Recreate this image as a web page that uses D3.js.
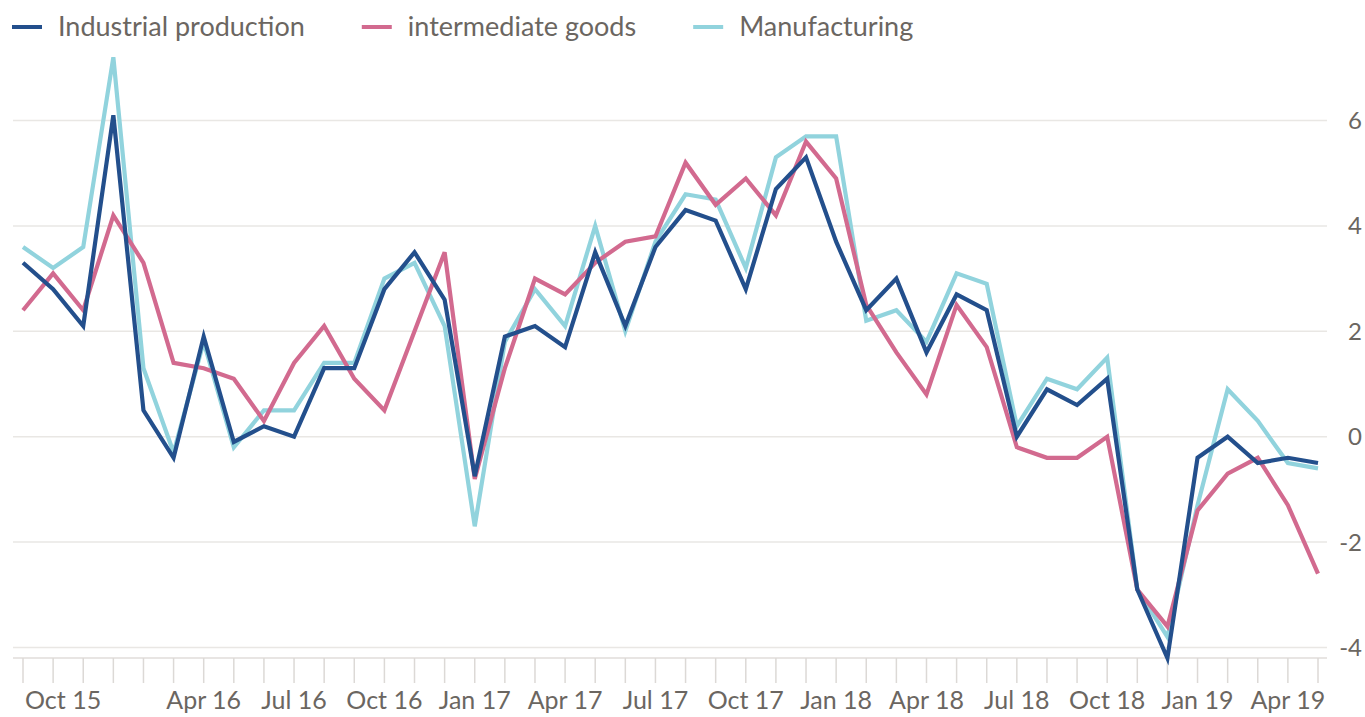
<!DOCTYPE html>
<html>
<head>
<meta charset="utf-8">
<script src="https://cdn.jsdelivr.net/npm/d3@7"></script>
<style>
  html, body { margin: 0; padding: 0; background: #ffffff; }
  svg { display: block; }
  text { font-family: Lato, "Open Sans", sans-serif; fill: #6b6661; }
</style>
</head>
<body>
<svg id="chart" width="1365" height="717"></svg>
<script>
// ---- Data ----
const months = ["Oct 15","Nov 15","Dec 15","Jan 16","Feb 16","Mar 16","Apr 16","May 16","Jun 16","Jul 16","Aug 16","Sep 16",
  "Oct 16","Nov 16","Dec 16","Jan 17","Feb 17","Mar 17","Apr 17","May 17","Jun 17","Jul 17","Aug 17","Sep 17",
  "Oct 17","Nov 17","Dec 17","Jan 18","Feb 18","Mar 18","Apr 18","May 18","Jun 18","Jul 18","Aug 18","Sep 18",
  "Oct 18","Nov 18","Dec 18","Jan 19","Feb 19","Mar 19","Apr 19","May 19"];

const industrialProduction = [3.3, 2.8, 2.1, 6.1, 0.5, -0.4, 1.9, -0.1, 0.2, 0.0, 1.3, 1.3,
  2.8, 3.5, 2.6, -0.75, 1.9, 2.1, 1.7, 3.5, 2.1, 3.6, 4.3, 4.1,
  2.8, 4.7, 5.3, 3.7, 2.4, 3.0, 1.6, 2.7, 2.4, 0.0, 0.9, 0.6,
  1.1, -2.9, -4.2, -0.4, 0.0, -0.5, -0.4, -0.5];

const intermediateGoods = [2.4, 3.1, 2.4, 4.2, 3.3, 1.4, 1.3, 1.1, 0.3, 1.4, 2.1, 1.1,
  0.5, 2.0, 3.5, -0.8, 1.3, 3.0, 2.7, 3.3, 3.7, 3.8, 5.2, 4.4,
  4.9, 4.2, 5.6, 4.9, 2.5, 1.6, 0.8, 2.5, 1.7, -0.2, -0.4, -0.4,
  0.0, -2.9, -3.6, -1.4, -0.7, -0.4, -1.3, -2.6];

const manufacturing = [3.6, 3.2, 3.6, 7.2, 1.3, -0.3, 1.8, -0.2, 0.5, 0.5, 1.4, 1.4,
  3.0, 3.3, 2.1, -1.7, 1.8, 2.8, 2.1, 4.0, 2.0, 3.7, 4.6, 4.5,
  3.2, 5.3, 5.7, 5.7, 2.2, 2.4, 1.8, 3.1, 2.9, 0.2, 1.1, 0.9,
  1.5, -2.9, -3.8, -1.3, 0.9, 0.3, -0.5, -0.6];

const yTicks = [-4, -2, 0, 2, 4, 6];
const xLabels = ["Oct 15","Apr 16","Jul 16","Oct 16","Jan 17","Apr 17","Jul 17","Oct 17","Jan 18","Apr 18","Jul 18","Oct 18","Jan 19","Apr 19"];

const seriesNames = ["Industrial production", "intermediate goods", "Manufacturing"];
const seriesColors = ["#234f8c", "#d26a8f", "#91d3dd"];
const seriesData = [industrialProduction, intermediateGoods, manufacturing];

// ---- Layout ----
const svg = d3.select("#chart");
const x = d3.scaleLinear().domain([0, months.length - 1]).range([23, 1318]);
const y = d3.scaleLinear().domain([-4, 6]).range([647.5, 120.5]);
const gridLeft = 13, gridRight = 1327;

// gridlines
svg.append("g").selectAll("line").data(yTicks).join("line")
  .attr("x1", gridLeft).attr("x2", gridRight)
  .attr("y1", d => y(d)).attr("y2", d => y(d))
  .attr("stroke", "#e9e7e4").attr("stroke-width", 1.5);

// y labels (right)
svg.append("g").selectAll("text").data(yTicks).join("text")
  .attr("x", 1362).attr("y", d => y(d)).attr("dy", "0.35em")
  .attr("text-anchor", "end").attr("font-size", 24)
  .text(d => d);

// x axis baseline and ticks
svg.append("line").attr("x1", gridLeft).attr("x2", gridRight)
  .attr("y1", 658).attr("y2", 658).attr("stroke", "#e0ddda").attr("stroke-width", 1.5);
svg.append("g").selectAll("line").data(months).join("line")
  .attr("x1", (d, i) => x(i)).attr("x2", (d, i) => x(i))
  .attr("y1", 658).attr("y2", 683)
  .attr("stroke", "#dcd9d6").attr("stroke-width", 1.5);

// x labels
svg.append("g").selectAll("text").data(xLabels).join("text")
  .attr("x", (d, k) => k === 0 ? 25 : x(months.indexOf(d)))
  .attr("y", 709)
  .attr("text-anchor", (d, k) => k === 0 ? "start" : "middle")
  .attr("font-size", 25)
  .text(d => d);

// lines
const line = d3.line().x((d, i) => x(i)).y(d => y(d)).curve(d3.curveLinear);
[2, 1, 0].forEach(s => {
  svg.append("path").datum(seriesData[s])
    .attr("d", line).attr("fill", "none")
    .attr("stroke", seriesColors[s]).attr("stroke-width", 4.2)
    .attr("stroke-linejoin", "miter").attr("stroke-miterlimit", 4);
});

// legend
const legend = svg.append("g");
let lx = 12;
seriesNames.forEach((name, s) => {
  legend.append("line").attr("x1", lx).attr("x2", lx + 30)
    .attr("y1", 27).attr("y2", 27)
    .attr("stroke", seriesColors[s]).attr("stroke-width", 4);
  const t = legend.append("text").attr("x", lx + 46).attr("y", 27).attr("dy", "0.35em")
    .attr("font-size", 27).text(name);
  lx = lx + 46 + t.node().getComputedTextLength() + 57;
});
</script>
</body>
</html>
